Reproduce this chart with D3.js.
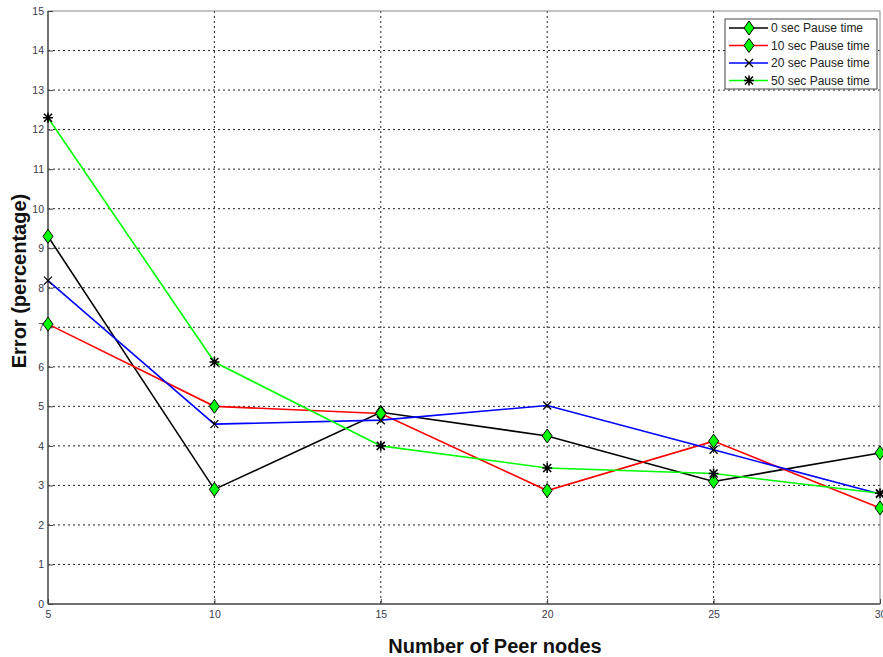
<!DOCTYPE html>
<html>
<head>
<meta charset="utf-8">
<script src="https://cdn.jsdelivr.net/npm/d3@7"></script>
<style>
  html, body { margin: 0; padding: 0; background: #fff; }
  svg { display: block; }
</style>
</head>
<body>
<svg id="chart" width="883" height="657"></svg>
<script>
// Number of peer nodes on the x axis
const peerNodes = [5, 10, 15, 20, 25, 30];

// Error (%) for each pause time
const pause0  = [9.3, 2.9, 4.85, 4.25, 3.1, 3.82];
const pause10 = [7.08, 5.0, 4.82, 2.87, 4.12, 2.43];
const pause20 = [8.18, 4.55, 4.65, 5.02, 3.9, 2.78];
const pause50 = [12.3, 6.12, 4.0, 3.44, 3.3, 2.8];

const seriesNames = ["0 sec Pause time", "10 sec Pause time", "20 sec Pause time", "50 sec Pause time"];
const xTicks = [5, 10, 15, 20, 25, 30];
const yTicks = d3.range(0, 16);

const series = [
  { name: seriesNames[0], values: pause0,  color: "#000000", marker: "diamond" },
  { name: seriesNames[1], values: pause10, color: "#ff0000", marker: "diamond" },
  { name: seriesNames[2], values: pause20, color: "#0000ff", marker: "cross" },
  { name: seriesNames[3], values: pause50, color: "#00ff00", marker: "star" }
];

const svg = d3.select("#chart");
const plotLeft = 48, plotRight = 880, plotTop = 11, plotBottom = 604;

const x = d3.scaleLinear().domain([5, 30]).range([plotLeft, plotRight]);
const y = d3.scaleLinear().domain([0, 15]).range([plotBottom, plotTop]);

const tickFont = "Arial, 'Liberation Sans', sans-serif";

// dotted grid
const grid = svg.append("g");
grid.selectAll("line.gy").data(yTicks.slice(1, -1)).join("line")
  .attr("x1", plotLeft).attr("x2", plotRight)
  .attr("y1", d => y(d)).attr("y2", d => y(d))
  .attr("stroke", "#222").attr("stroke-width", 1).attr("stroke-dasharray", "2,3");
grid.selectAll("line.gx").data(xTicks.slice(1, -1)).join("line")
  .attr("x1", d => x(d)).attr("x2", d => x(d))
  .attr("y1", plotTop).attr("y2", plotBottom)
  .attr("stroke", "#222").attr("stroke-width", 1).attr("stroke-dasharray", "2,3");

// plot frame
svg.append("rect")
  .attr("x", plotLeft).attr("y", plotTop).attr("width", plotRight - plotLeft).attr("height", plotBottom - plotTop)
  .attr("fill", "none").attr("stroke", "#8a8a8a").attr("stroke-width", 1);
svg.append("line").attr("x1", plotLeft).attr("x2", plotLeft).attr("y1", plotTop).attr("y2", plotBottom)
  .attr("stroke", "#555").attr("stroke-width", 1.5);
svg.append("line").attr("x1", plotLeft).attr("x2", plotRight).attr("y1", plotBottom).attr("y2", plotBottom)
  .attr("stroke", "#555").attr("stroke-width", 1.5);

// axes (inward ticks)
const yAxis = d3.axisLeft(y).tickValues(yTicks).tickSize(-5).tickPadding(9).tickFormat(d3.format("d"));
const gy = svg.append("g").attr("transform", `translate(${plotLeft},0)`).call(yAxis);
const xAxis = d3.axisBottom(x).tickValues(xTicks).tickSize(-5).tickPadding(9).tickFormat(d3.format("d"));
const gx = svg.append("g").attr("transform", `translate(0,${plotBottom})`).call(xAxis);
[gx, gy].forEach(g => {
  g.select(".domain").remove();
  g.selectAll(".tick line").attr("stroke", "#444");
  g.selectAll(".tick text").attr("fill", "#3a3a4a").style("font-family", tickFont).style("font-size", "10.5px");
});
gy.selectAll(".tick text").attr("dx", 5);
gx.selectAll(".tick text").attr("dy", "0.5em");

// axis titles
svg.append("text")
  .attr("x", 495).attr("y", 653)
  .attr("text-anchor", "middle")
  .style("font-family", tickFont).style("font-weight", "bold").style("font-size", "20px")
  .attr("fill", "#111")
  .text("Number of Peer nodes");
svg.append("text")
  .attr("transform", "translate(26,281) rotate(-90)")
  .attr("text-anchor", "middle")
  .style("font-family", tickFont).style("font-weight", "bold").style("font-size", "20px")
  .attr("fill", "#111")
  .text("Error (percentage)");

// marker drawing
function drawMarker(g, type, cx, cy) {
  if (type === "diamond") {
    g.append("path")
      .attr("d", `M${cx},${cy - 7}L${cx + 5},${cy}L${cx},${cy + 7}L${cx - 5},${cy}Z`)
      .attr("fill", "#00ff00").attr("stroke", "#000").attr("stroke-width", 1);
  } else if (type === "cross") {
    g.append("path")
      .attr("d", `M${cx - 4},${cy - 4}L${cx + 4},${cy + 4}M${cx - 4},${cy + 4}L${cx + 4},${cy - 4}`)
      .attr("stroke", "#000").attr("stroke-width", 1.3);
  } else if (type === "star") {
    g.append("path")
      .attr("d", `M${cx - 5},${cy}L${cx + 5},${cy}M${cx},${cy - 5}L${cx},${cy + 5}` +
                 `M${cx - 4},${cy - 4}L${cx + 4},${cy + 4}M${cx - 4},${cy + 4}L${cx + 4},${cy - 4}`)
      .attr("stroke", "#000").attr("stroke-width", 1.6);
  }
}

const line = d3.line().x((d, i) => x(peerNodes[i])).y(d => y(d));
const plot = svg.append("g");
series.forEach(s => {
  plot.append("path").datum(s.values)
    .attr("d", line).attr("fill", "none")
    .attr("stroke", s.color).attr("stroke-width", 1.6);
});
series.forEach(s => {
  const mg = plot.append("g");
  s.values.forEach((v, i) => drawMarker(mg, s.marker, x(peerNodes[i]), y(v)));
});

// legend
const lg = svg.append("g").attr("transform", "translate(725,19)");
lg.append("rect").attr("width", 152).attr("height", 70)
  .attr("fill", "#fff").attr("stroke", "#444").attr("stroke-width", 1);
series.forEach((s, i) => {
  const ly = 9 + i * 17.5;
  lg.append("line").attr("x1", 4).attr("x2", 43).attr("y1", ly).attr("y2", ly)
    .attr("stroke", s.color).attr("stroke-width", 1.6);
  drawMarker(lg, s.marker, 24, ly);
  lg.append("text").attr("x", 46).attr("y", ly + 4)
    .style("font-family", tickFont).style("font-size", "12px").attr("fill", "#222")
    .text(s.name);
});
</script>
</body>
</html>
